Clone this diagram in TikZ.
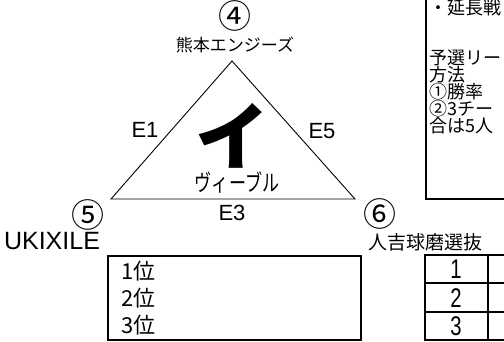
\documentclass[tikz,border=0pt]{standalone}
\usepackage{fontspec}
\setmainfont{Liberation Sans}
\newfontfamily\jpfont{Noto Sans CJK JP}
\usetikzlibrary{positioning}

\begin{document}
\begin{tikzpicture}[x=1pt, y=-1pt, inner sep=0pt,
    lbl/.style={font=\fontsize{22}{22}\selectfont},
    jp/.style={font=\jpfont\fontsize{#1}{#1}\selectfont},
    num/.style={font=\jpfont\fontsize{33}{33}\selectfont},
    memo/.style={jp=18, anchor=base west, text height=13pt, text depth=2pt},
    frame/.style={draw, line width=2.5pt}]
  \useasboundingbox (0,0) rectangle (504,341);
  \clip (0,0) rectangle (504,341);

  % triangle of the group
  \coordinate (v4) at (232,61);
  \coordinate (v5) at (111,199);
  \coordinate (v6) at (355,199);
  \draw[line width=0.9pt] (v4) -- (v6) -- (v5) -- cycle;

  \node[num] (n4) at (235,16) {④};
  \node[jp=17] (kuma) at (235,45) {熊本エンジーズ};
  \node[num] (n5) at (88,215) {⑤};
  \node[font=\fontsize{25}{25}\selectfont] (ukix) at (52,241) {UKIXILE};
  \node[num] (n6) at (380,214) {⑥};
  \node[jp=19] (hito) at (425,242) {人吉球磨選抜};

  \node[lbl] (e1) at (145,130) {E1};
  \node[lbl] (e5) at (322,131) {E5};
  \node[lbl] (e3) at (232,213) {E3};
  \node[font=\jpfont\bfseries\fontsize{74}{74}\selectfont, text depth=0pt,
        anchor=base] (group) at (232,164) {イ};
  \node[jp=23, xscale=0.74] (vivre) at (237,183) {ヴィーブル};

  % ranking box
  \draw[frame] (108,256) rectangle (361,340);
  \node[jp=22, anchor=west] (r1) at (121,271) {1位};
  \node[jp=22, anchor=west] (r2) at (121,298) {2位};
  \node[jp=22, anchor=west] (r3) at (121,325) {3位};

  % table on the right
  \draw[frame] (425,255) rectangle (515,340);
  \draw[frame] (425,283) -- (515,283);
  \draw[frame] (425,312) -- (515,312);
  \draw[frame] (488,255) -- (488,340);
  \node[font=\fontsize{27}{27}\selectfont, xscale=0.75] (t1) at (456,269) {1};
  \node[font=\fontsize{27}{27}\selectfont, xscale=0.75] (t2) at (456,298) {2};
  \node[font=\fontsize{27}{27}\selectfont, xscale=0.75] (t3) at (456,326) {3};

  % notes box
  \draw[frame] (426,-5) rectangle (515,199);
  \node[memo] (m1) at (429,14.3) {・延長戦};
  \node[memo] (m2) at (429,64.3) {予選リー};
  \node[memo] (m3) at (429,81.3) {方法};
  \node[memo] (m4) at (429,98.8) {①勝率};
  \node[memo] (m5) at (429,115.8) {②3チー};
  \node[memo] (m6) at (429,132.8) {合は5人};
\end{tikzpicture}
\end{document}
